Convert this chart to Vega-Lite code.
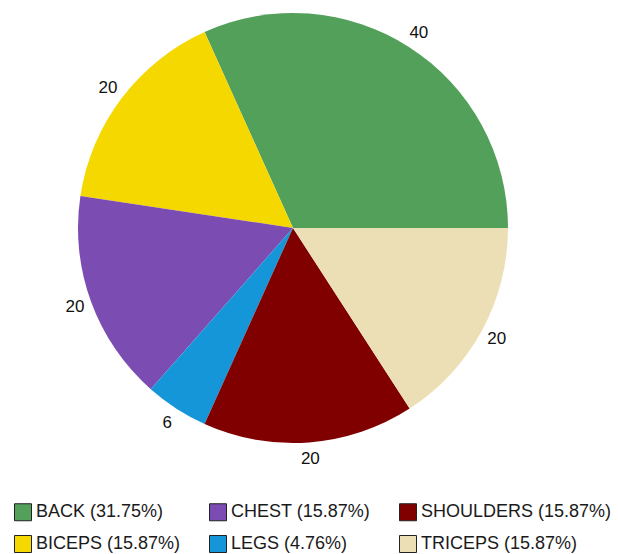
{
  "$schema": "https://vega.github.io/schema/vega-lite/v6.json",
  "width": 586,
  "height": 456,
  "padding": 0,
  "autosize": {"type": "pad"},
  "background": "white",
  "view": {"stroke": null},
  "data": {
    "values": [
      {"part": "BACK", "legend": "BACK (31.75%)", "value": 40, "idx": 1},
      {"part": "BICEPS", "legend": "BICEPS (15.87%)", "value": 20, "idx": 2},
      {"part": "CHEST", "legend": "CHEST (15.87%)", "value": 20, "idx": 3},
      {"part": "LEGS", "legend": "LEGS (4.76%)", "value": 6, "idx": 4},
      {"part": "SHOULDERS", "legend": "SHOULDERS (15.87%)", "value": 20, "idx": 5},
      {"part": "TRICEPS", "legend": "TRICEPS (15.87%)", "value": 20, "idx": 6}
    ]
  },
  "encoding": {
    "theta": {"field": "value", "type": "quantitative", "stack": true, "scale": {"range": [1.5707963, -4.712389]}},
    "order": {"field": "idx", "type": "quantitative"}
  },
  "layer": [
    {
      "mark": {"type": "arc", "outerRadius": 215},
      "encoding": {
        "color": {
          "field": "legend",
          "type": "nominal",
          "scale": {
            "domain": ["BACK (31.75%)", "BICEPS (15.87%)", "CHEST (15.87%)", "LEGS (4.76%)", "SHOULDERS (15.87%)", "TRICEPS (15.87%)"],
            "range": ["#53A05B", "#F5D800", "#7B4DB3", "#1496D8", "#800000", "#ECDFB5"]
          },
          "legend": {
            "orient": "none",
            "legendX": 14,
            "legendY": 503,
            "columns": 3,
            "title": null,
            "symbolType": "square",
            "symbolSize": 289,
            "symbolStrokeColor": "#222222",
            "symbolStrokeWidth": 1,
            "labelFont": "Liberation Sans",
            "labelFontSize": 18,
            "labelColor": "#1a1a1a",
            "labelLimit": 300,
            "labelOffset": 4,
            "columnPadding": 26,
            "rowPadding": 10
          }
        }
      }
    },
    {
      "mark": {"type": "text", "radius": 232, "font": "Liberation Sans", "fontSize": 17, "color": "#111111"},
      "encoding": {"text": {"field": "value", "type": "quantitative"}}
    }
  ]
}
